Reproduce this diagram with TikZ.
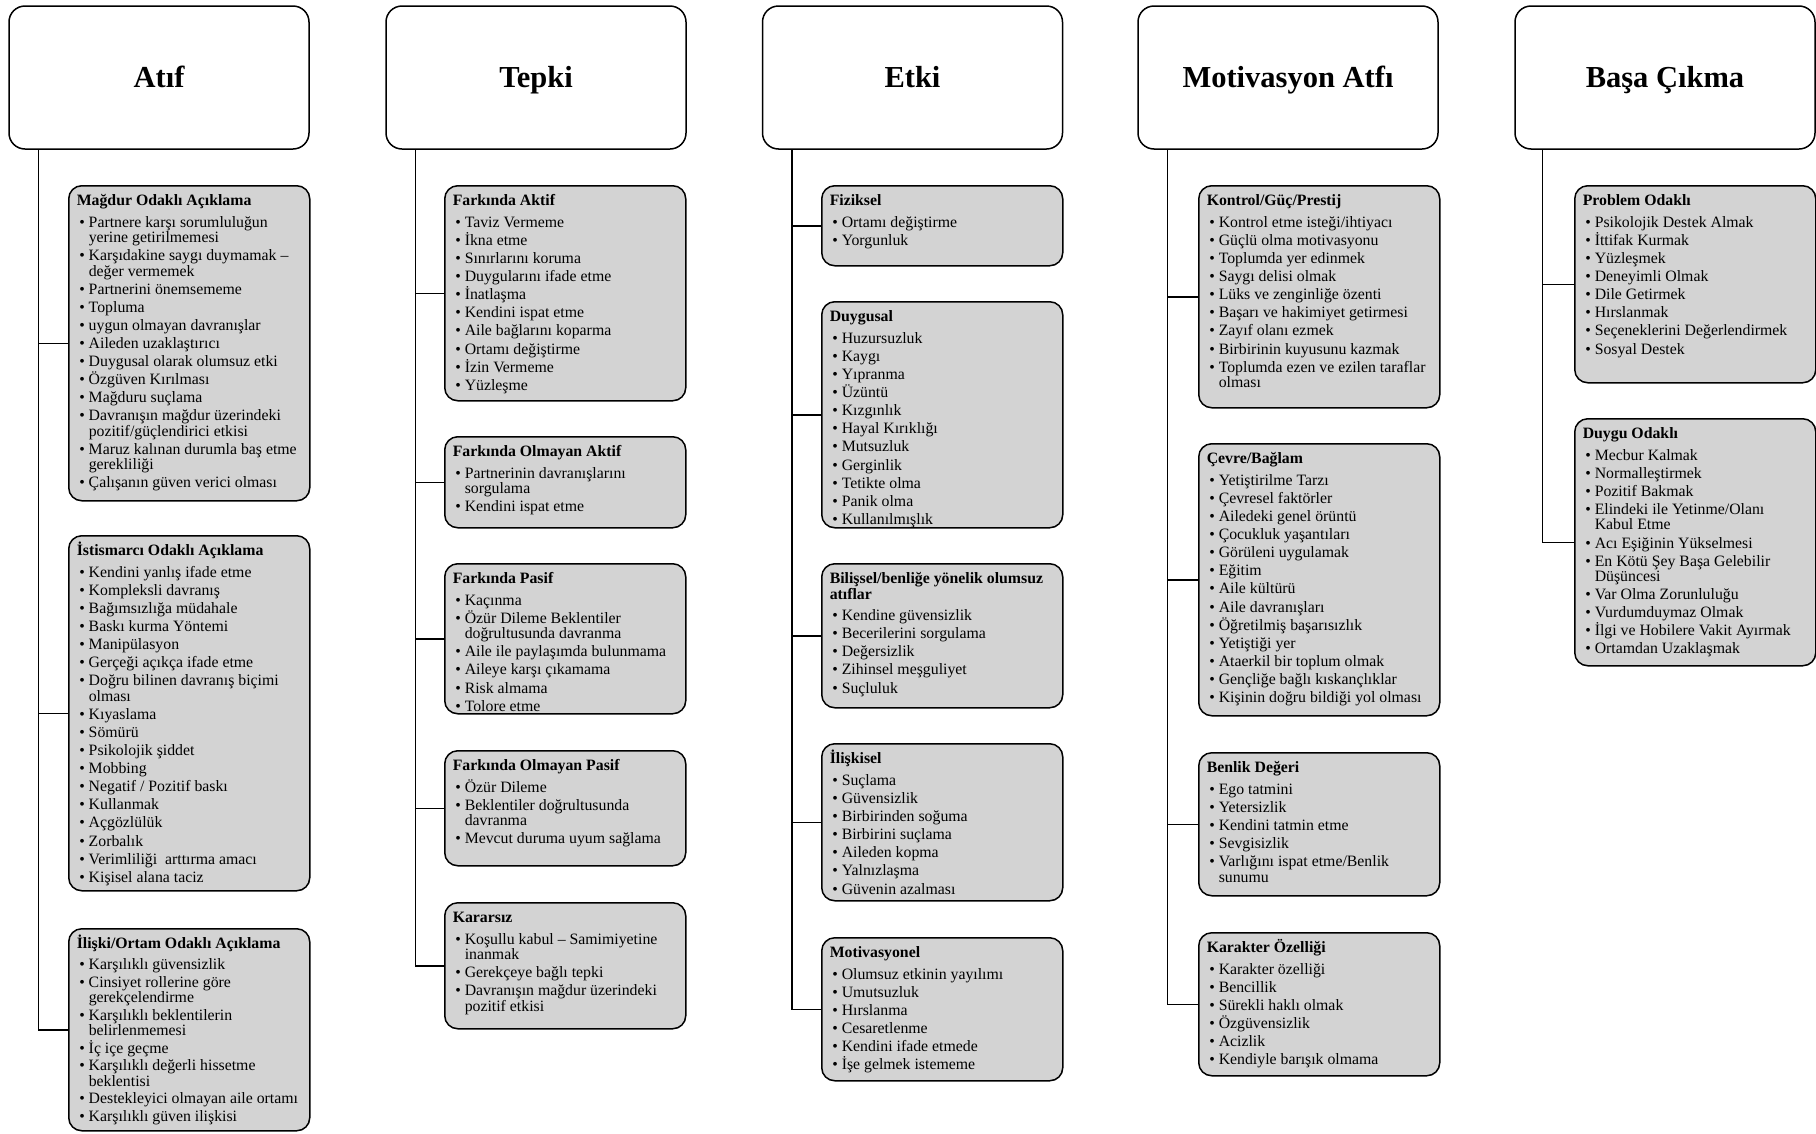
\documentclass[tikz,border=0pt]{standalone}
\usepackage{fontspec}
\setmainfont{Liberation Serif}
\usetikzlibrary{positioning}
\definecolor{kutugri}{RGB}{211,211,211}

\newcommand{\mad}[1]{\par\hangindent=12pt\hangafter=1\noindent\makebox[12pt][l]{\hspace{2.5pt}\textbullet}#1}
\newcommand{\kutu}[4][2.8pt]{\parbox[t][#2][t]{225pt}{\fontsize{15.8}{15.3}\selectfont\lineskiplimit=-20pt\relax\raggedright\rule{0pt}{13.5pt}\textbf{#3}\par\vspace{3.5pt}\parskip=#1\relax #4}}

\begin{document}
\begin{tikzpicture}[x=1pt,y=-1pt,
    baslik/.style={draw,line width=1.5pt,rounded corners=16pt,minimum width=300pt,minimum height=143pt,text height=22pt,text depth=3pt,font=\fontsize{30.5}{36}\selectfont\bfseries},
    alt/.style={draw,fill=kutugri,line width=1.5pt,rounded corners=13pt,anchor=north west,inner xsep=8pt,inner ysep=6.5pt},
    cizgi/.style={line width=1.5pt}]
    \useasboundingbox (0,0) rectangle (1816,1133);

    \node[baslik] (atif) at (159,77.5) {Atıf};
    \node[baslik] (tepki) at (536,77.5) {Tepki};
    \node[baslik] (etki) at (912.5,77.5) {Etki};
    \node[baslik] (motiv) at (1288,77.5) {Motivasyon Atfı};
    \node[baslik] (basa) at (1665,77.5) {Başa Çıkma};

    \coordinate (atifk) at ([xshift=30pt]atif.south west);
    \coordinate (tepkik) at ([xshift=30pt]tepki.south west);
    \coordinate (etkik) at ([xshift=30pt]etki.south west);
    \coordinate (motivk) at ([xshift=30pt]motiv.south west);
    \coordinate (basak) at ([xshift=28pt]basa.south west);

    \node[alt] (magdur) at (68,185) {\kutu{302pt}{Mağdur Odaklı Açıklama}{%
        \mad{Partnere karşı sorumluluğun\newline yerine getirilmemesi}
        \mad{Karşıdakine saygı duymamak –\newline değer vermemek}
        \mad{Partnerini önemsememe}
        \mad{Topluma}
        \mad{uygun olmayan davranışlar}
        \mad{Aileden uzaklaştırıcı}
        \mad{Duygusal olarak olumsuz etki}
        \mad{Özgüven Kırılması}
        \mad{Mağduru suçlama}
        \mad{Davranışın mağdur üzerindeki\newline pozitif/güçlendirici etkisi}
        \mad{Maruz kalınan durumla baş etme\newline gerekliliği}
        \mad{Çalışanın güven verici olması}}};
    \node[alt] (istismarci) at (68,535) {\kutu{342pt}{İstismarcı Odaklı Açıklama}{%
        \mad{Kendini yanlış ifade etme}
        \mad{Kompleksli davranış}
        \mad{Bağımsızlığa müdahale}
        \mad{Baskı kurma Yöntemi}
        \mad{Manipülasyon}
        \mad{Gerçeği açıkça ifade etme}
        \mad{Doğru bilinen davranış biçimi\newline olması}
        \mad{Kıyaslama}
        \mad{Sömürü}
        \mad{Psikolojik şiddet}
        \mad{Mobbing}
        \mad{Negatif / Pozitif baskı}
        \mad{Kullanmak}
        \mad{Açgözlülük}
        \mad{Zorbalık}
        \mad{Verimliliği~~arttırma amacı}
        \mad{Kişisel alana taciz}}};
    \node[alt] (iliski) at (68,928) {\kutu[2.3pt]{189pt}{İlişki/Ortam Odaklı Açıklama}{%
        \mad{Karşılıklı güvensizlik}
        \mad{Cinsiyet rollerine göre\newline gerekçelendirme}
        \mad{Karşılıklı beklentilerin\newline belirlenmemesi}
        \mad{İç içe geçme}
        \mad{Karşılıklı değerli hissetme\newline beklentisi}
        \mad{Destekleyici olmayan aile ortamı}
        \mad{Karşılıklı güven ilişkisi}}};

    \node[alt] (fa) at (444,185) {\kutu{202pt}{Farkında Aktif}{%
        \mad{Taviz Vermeme}
        \mad{İkna etme}
        \mad{Sınırlarını koruma}
        \mad{Duygularını ifade etme}
        \mad{İnatlaşma}
        \mad{Kendini ispat etme}
        \mad{Aile bağlarını koparma}
        \mad{Ortamı değiştirme}
        \mad{İzin Vermeme}
        \mad{Yüzleşme}}};
    \node[alt] (foa) at (444,436) {\kutu{78pt}{Farkında Olmayan Aktif}{%
        \mad{Partnerinin davranışlarını\newline sorgulama}
        \mad{Kendini ispat etme}}};
    \node[alt] (fp) at (444,563) {\kutu{137pt}{Farkında Pasif}{%
        \mad{Kaçınma}
        \mad{Özür Dileme Beklentiler\newline doğrultusunda davranma}
        \mad{Aile ile paylaşımda bulunmama}
        \mad{Aileye karşı çıkamama}
        \mad{Risk almama}
        \mad{Tolore etme}}};
    \node[alt] (fop) at (444,750) {\kutu{102pt}{Farkında Olmayan Pasif}{%
        \mad{Özür Dileme}
        \mad{Beklentiler doğrultusunda\newline davranma}
        \mad{Mevcut duruma uyum sağlama}}};
    \node[alt] (kararsiz) at (444,902) {\kutu{113pt}{Kararsız}{%
        \mad{Koşullu kabul – Samimiyetine\newline inanmak}
        \mad{Gerekçeye bağlı tepki}
        \mad{Davranışın mağdur üzerindeki\newline pozitif etkisi}}};

    \node[alt] (fiziksel) at (821,185) {\kutu{67pt}{Fiziksel}{%
        \mad{Ortamı değiştirme}
        \mad{Yorgunluk}}};
    \node[alt] (duygusal) at (821,301) {\kutu{213pt}{Duygusal}{%
        \mad{Huzursuzluk}
        \mad{Kaygı}
        \mad{Yıpranma}
        \mad{Üzüntü}
        \mad{Kızgınlık}
        \mad{Hayal Kırıklığı}
        \mad{Mutsuzluk}
        \mad{Gerginlik}
        \mad{Tetikte olma}
        \mad{Panik olma}
        \mad{Kullanılmışlık}}};
    \node[alt] (bilissel) at (821,563) {\kutu{131pt}{Bilişsel/benliğe yönelik olumsuz\newline atıflar}{%
        \mad{Kendine güvensizlik}
        \mad{Becerilerini sorgulama}
        \mad{Değersizlik}
        \mad{Zihinsel meşguliyet}
        \mad{Suçluluk}}};
    \node[alt] (iliskisel) at (821,743) {\kutu{144pt}{İlişkisel}{%
        \mad{Suçlama}
        \mad{Güvensizlik}
        \mad{Birbirinden soğuma}
        \mad{Birbirini suçlama}
        \mad{Aileden kopma}
        \mad{Yalnızlaşma}
        \mad{Güvenin azalması}}};
    \node[alt] (motivasyonel) at (821,937) {\kutu{130pt}{Motivasyonel}{%
        \mad{Olumsuz etkinin yayılımı}
        \mad{Umutsuzluk}
        \mad{Hırslanma}
        \mad{Cesaretlenme}
        \mad{Kendini ifade etmede}
        \mad{İşe gelmek istememe}}};

    \node[alt] (kontrol) at (1198,185) {\kutu{209pt}{Kontrol/Güç/Prestij}{%
        \mad{Kontrol etme isteği/ihtiyacı}
        \mad{Güçlü olma motivasyonu}
        \mad{Toplumda yer edinmek}
        \mad{Saygı delisi olmak}
        \mad{Lüks ve zenginliğe özenti}
        \mad{Başarı ve hakimiyet getirmesi}
        \mad{Zayıf olanı ezmek}
        \mad{Birbirinin kuyusunu kazmak}
        \mad{Toplumda ezen ve ezilen taraflar\newline olması}}};
    \node[alt] (cevre) at (1198,443) {\kutu{259pt}{Çevre/Bağlam}{%
        \mad{Yetiştirilme Tarzı}
        \mad{Çevresel faktörler}
        \mad{Ailedeki genel örüntü}
        \mad{Çocukluk yaşantıları}
        \mad{Görüleni uygulamak}
        \mad{Eğitim}
        \mad{Aile kültürü}
        \mad{Aile davranışları}
        \mad{Öğretilmiş başarısızlık}
        \mad{Yetiştiği yer}
        \mad{Ataerkil bir toplum olmak}
        \mad{Gençliğe bağlı kıskançlıklar}
        \mad{Kişinin doğru bildiği yol olması}}};
    \node[alt] (benlik) at (1198,752) {\kutu{130pt}{Benlik Değeri}{%
        \mad{Ego tatmini}
        \mad{Yetersizlik}
        \mad{Kendini tatmin etme}
        \mad{Sevgisizlik}
        \mad{Varlığını ispat etme/Benlik\newline sunumu}}};
    \node[alt] (karakter) at (1198,932) {\kutu{130pt}{Karakter Özelliği}{%
        \mad{Karakter özelliği}
        \mad{Bencillik}
        \mad{Sürekli haklı olmak}
        \mad{Özgüvensizlik}
        \mad{Acizlik}
        \mad{Kendiyle barışık olmama}}};

    \node[alt] (problem) at (1574,185) {\kutu{184pt}{Problem Odaklı}{%
        \mad{Psikolojik Destek Almak}
        \mad{İttifak Kurmak}
        \mad{Yüzleşmek}
        \mad{Deneyimli Olmak}
        \mad{Dile Getirmek}
        \mad{Hırslanmak}
        \mad{Seçeneklerini Değerlendirmek}
        \mad{Sosyal Destek}}};
    \node[alt] (duygu) at (1574,418) {\kutu{234pt}{Duygu Odaklı}{%
        \mad{Mecbur Kalmak}
        \mad{Normalleştirmek}
        \mad{Pozitif Bakmak}
        \mad{Elindeki ile Yetinme/Olanı\newline Kabul Etme}
        \mad{Acı Eşiğinin Yükselmesi}
        \mad{En Kötü Şey Başa Gelebilir\newline Düşüncesi}
        \mad{Var Olma Zorunluluğu}
        \mad{Vurdumduymaz Olmak}
        \mad{İlgi ve Hobilere Vakit Ayırmak}
        \mad{Ortamdan Uzaklaşmak}}};

    \draw[cizgi] (atifk) |- (magdur.west);
    \draw[cizgi] (atifk) |- (istismarci.west);
    \draw[cizgi] (atifk) |- (iliski.west);
    \draw[cizgi] (tepkik) |- (fa.west);
    \draw[cizgi] (tepkik) |- (foa.west);
    \draw[cizgi] (tepkik) |- (fp.west);
    \draw[cizgi] (tepkik) |- (fop.west);
    \draw[cizgi] (tepkik) |- (kararsiz.west);
    \draw[cizgi] (etkik) |- (fiziksel.west);
    \draw[cizgi] (etkik) |- (duygusal.west);
    \draw[cizgi] (etkik) |- (bilissel.west);
    \draw[cizgi] (etkik) |- (iliskisel.west);
    \draw[cizgi] (etkik) |- (motivasyonel.west);
    \draw[cizgi] (motivk) |- (kontrol.west);
    \draw[cizgi] (motivk) |- (cevre.west);
    \draw[cizgi] (motivk) |- (benlik.west);
    \draw[cizgi] (motivk) |- (karakter.west);
    \draw[cizgi] (basak) |- (problem.west);
    \draw[cizgi] (basak) |- (duygu.west);
\end{tikzpicture}
\end{document}
